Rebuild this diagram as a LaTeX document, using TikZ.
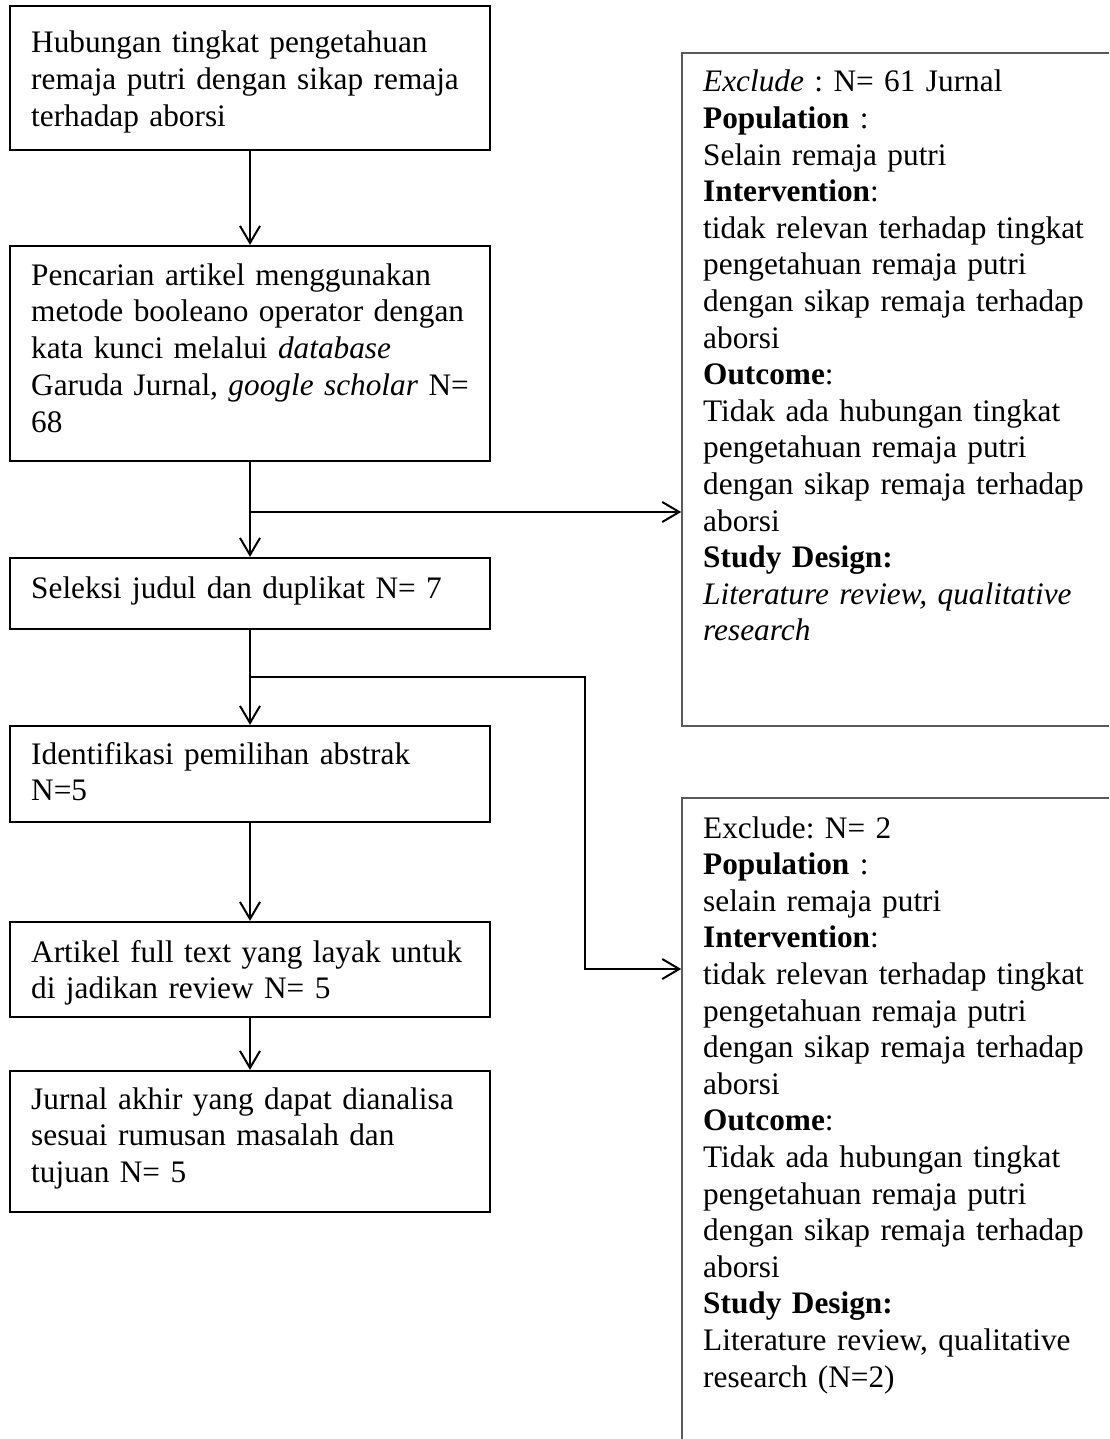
\documentclass[tikz,border=0pt]{standalone}
\usepackage{fontspec}
\setmainfont{Liberation Serif}
\frenchspacing
\usetikzlibrary{arrows.meta,fit}
\tikzset{
  lbox/.style={draw=black, line width=2.2pt, inner sep=0pt, rectangle},
  rbox/.style={draw={rgb,255:red,90;green,90;blue,90}, line width=1.6pt, inner sep=0pt, rectangle},
  txt/.style={anchor=base west, inner sep=0pt, align=left, font=\fontsize{31.3}{36.8}\selectfont\frenchspacing},
  ltxt/.style={txt, text width=455pt},
  rtxt/.style={txt, text width=400pt, font=\fontsize{31.3}{36.6}\selectfont\frenchspacing},
  arr/.style={line width=2pt, -{Straight Barb[length=17pt,width=20pt,line width=2pt]}},
  conn/.style={line width=2pt}
}
\begin{document}
\begin{tikzpicture}[x=1pt,y=-1pt]
\useasboundingbox (0,0) rectangle (1109,1439);
\clip (0,0) rectangle (1109,1439);

% left boxes
\node[lbox, fit={(10,6) (490,150)}] (b1) {};
\node[ltxt] (t1) at (31,53) {Hubungan tingkat pengetahuan\\remaja putri dengan sikap remaja\\terhadap aborsi};

\node[lbox, fit={(10,246) (490,461)}] (b2) {};
\node[ltxt] (t2) at (31,285) {Pencarian artikel menggunakan\\metode booleano operator dengan\\kata kunci melalui \textit{database}\\Garuda Jurnal\textit{, google scholar} N=\\68};

\node[lbox, fit={(10,558) (490,629)}] (b3) {};
\node[ltxt] (t3) at (31,598) {Seleksi judul dan duplikat N= 7};

\node[lbox, fit={(10,726) (490,822)}] (b4) {};
\node[ltxt] (t4) at (31,764) {Identifikasi pemilihan abstrak\\N=5};

\node[lbox, fit={(10,922) (490,1017)}] (b5) {};
\node[ltxt] (t5) at (31,962) {Artikel full text yang layak untuk\\di jadikan review N= 5};

\node[lbox, fit={(10,1071) (490,1212)}] (b6) {};
\node[ltxt] (t6) at (31,1109) {Jurnal akhir yang dapat dianalisa\\sesuai rumusan masalah dan\\tujuan N= 5};

% right boxes
\node[rbox, fit={(682,53) (1130,726)}] (r1) {};
\node[rtxt] (rt1) at (703,92) {\textit{Exclude} : N= 61 Jurnal\\\textbf{Population} :\\Selain remaja putri\\\textbf{Intervention}:\\tidak relevan terhadap tingkat\\pengetahuan remaja putri\\dengan sikap remaja terhadap\\aborsi\\\textbf{Outcome}:\\Tidak ada hubungan tingkat\\pengetahuan remaja putri\\dengan sikap remaja terhadap\\aborsi\\\textbf{Study Design:}\\\textit{Literature review, qualitative}\\\textit{research}};

\node[rbox, fit={(682,798) (1130,1460)}] (r2) {};
\node[rtxt] (rt2) at (703,838) {Exclude: N= 2\\\textbf{Population} :\\selain remaja putri\\\textbf{Intervention}:\\tidak relevan terhadap tingkat\\pengetahuan remaja putri\\dengan sikap remaja terhadap\\aborsi\\\textbf{Outcome}:\\Tidak ada hubungan tingkat\\pengetahuan remaja putri\\dengan sikap remaja terhadap\\aborsi\\\textbf{Study Design:}\\Literature review, qualitative\\research (N=2)};

% connectors
\coordinate (j1) at (250,512);
\coordinate (j2) at (250,677);
\coordinate (k2) at (585,677);
\coordinate (k3) at (585,969);

\draw[arr] (b1.south) -- (b2.north);
\draw[arr] (b2.south) -- (b3.north);
\draw[arr] (j1) -- (j1 -| r1.west);
\draw[arr] (b3.south) -- (b4.north);
\draw[arr] (j2) -- (k2) -- (k3) -- (k3 -| r2.west);
\draw[arr] (b4.south) -- (b5.north);
\draw[arr] (b5.south) -- (b6.north);
\end{tikzpicture}
\end{document}
